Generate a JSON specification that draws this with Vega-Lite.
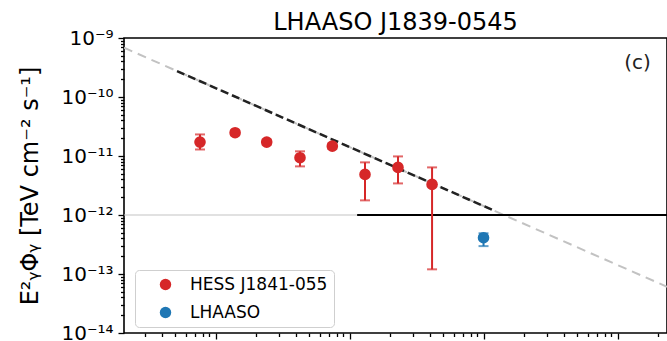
{
  "$schema": "https://vega.github.io/schema/vega-lite/v6.json",
  "width": 543,
  "height": 295,
  "autosize": {"type": "none"},
  "padding": {"left": 124, "top": 38, "right": 0, "bottom": 8},
  "background": "white",
  "config": {
    "font": "DejaVu Sans",
    "view": {"stroke": "black", "strokeWidth": 1.6},
    "axis": {"grid": false, "domain": false, "tickColor": "black", "tickWidth": 1.3, "labelColor": "black", "titleColor": "black", "labelFont": "DejaVu Sans", "titleFont": "DejaVu Sans"}
  },
  "title": {"text": "LHAASO J1839-0545", "fontSize": 24, "fontWeight": "normal", "font": "DejaVu Sans", "anchor": "middle", "frame": "group", "baseline": "alphabetic", "offset": 8, "dy": 34, "color": "black"},
  "datasets": {
    "points": [
      {"series": "HESS J1841-055", "E": 0.766, "F": 1.72e-11, "lo": 1.29e-11, "hi": 2.32e-11},
      {"series": "HESS J1841-055", "E": 1.40, "F": 2.48e-11, "lo": 2.25e-11, "hi": 2.72e-11},
      {"series": "HESS J1841-055", "E": 2.41, "F": 1.72e-11, "lo": 1.55e-11, "hi": 1.90e-11},
      {"series": "HESS J1841-055", "E": 4.27, "F": 9.35e-12, "lo": 6.67e-12, "hi": 1.20e-11},
      {"series": "HESS J1841-055", "E": 7.44, "F": 1.47e-11, "lo": 1.32e-11, "hi": 1.63e-11},
      {"series": "HESS J1841-055", "E": 13.05, "F": 4.88e-12, "lo": 1.77e-12, "hi": 7.80e-12},
      {"series": "HESS J1841-055", "E": 23.0, "F": 6.41e-12, "lo": 3.43e-12, "hi": 9.84e-12},
      {"series": "HESS J1841-055", "E": 41.3, "F": 3.30e-12, "lo": 1.20e-13, "hi": 6.41e-12},
      {"series": "LHAASO", "E": 100, "F": 4.12e-13, "lo": 2.97e-13, "hi": 4.90e-13}
    ],
    "greydash": [
      {"E": 0.2075, "F": 6.84e-10},
      {"E": 2340, "F": 6.07e-14}
    ],
    "blackdash": [
      {"E": 0.516, "F": 2.75e-10},
      {"E": 122, "F": 1.164e-12}
    ]
  },
  "layer": [
    {
      "data": {"name": "greydash"},
      "mark": {"type": "line", "color": "#c2c2c2", "strokeWidth": 2, "strokeDash": [9, 6], "clip": true},
      "encoding": {
        "x": {
          "field": "E", "type": "quantitative",
          "scale": {"type": "log", "domain": [0.2075, 2340], "nice": false},
          "axis": {
            "title": null,
            "labels": false,
            "values": [0.3, 0.4, 0.5, 0.6, 0.7, 0.8, 0.9, 1, 2, 3, 4, 5, 6, 7, 8, 9, 10, 20, 30, 40, 50, 60, 70, 80, 90, 100, 200, 300, 400, 500, 600, 700, 800, 900, 1000, 2000],
            "tickSize": {"condition": {"test": "abs(log(datum.value)/LN10 - round(log(datum.value)/LN10)) > 0.01", "value": 3.5}, "value": 6}
          }
        },
        "y": {
          "field": "F", "type": "quantitative",
          "scale": {"type": "log", "domain": [1e-14, 1e-9], "nice": false},
          "axis": {
            "title": "E²ᵧΦᵧ [TeV cm⁻² s⁻¹]",
            "values": [1e-14, 2e-14, 3e-14, 4e-14, 5e-14, 6e-14, 7e-14, 8e-14, 9e-14, 1e-13, 2e-13, 3e-13, 4e-13, 5e-13, 6e-13, 7e-13, 8e-13, 9e-13, 1e-12, 2e-12, 3e-12, 4e-12, 5e-12, 6e-12, 7e-12, 8e-12, 9e-12, 1e-11, 2e-11, 3e-11, 4e-11, 5e-11, 6e-11, 7e-11, 8e-11, 9e-11, 1e-10, 2e-10, 3e-10, 4e-10, 5e-10, 6e-10, 7e-10, 8e-10, 9e-10, 1e-9],
            "labelExpr": "abs(log(datum.value)/LN10 - round(log(datum.value)/LN10)) < 0.01 ? (datum.value > 5e-10 ? '10⁻⁹' : datum.value > 5e-11 ? '10⁻¹⁰' : datum.value > 5e-12 ? '10⁻¹¹' : datum.value > 5e-13 ? '10⁻¹²' : datum.value > 5e-14 ? '10⁻¹³' : '10⁻¹⁴') : ''",
            "labelFontSize": 20,
            "labelPadding": 5,
            "labelOverlap": false,
            "labelFlush": false,
            "tickSize": {"condition": {"test": "abs(log(datum.value)/LN10 - round(log(datum.value)/LN10)) > 0.01", "value": 3.5}, "value": 6},
            "titleFontSize": 24,
            "titleFontWeight": "normal",
            "titleX": -94,
            "titleY": 147.5,
            "titleAngle": -90,
            "titleAlign": "center",
            "titleBaseline": "middle"
          }
        }
      }
    },
    {
      "data": {"values": [{"F": 1e-12}]},
      "mark": {"type": "rule", "color": "#c4c4c4", "strokeWidth": 1.2},
      "encoding": {"y": {"field": "F", "type": "quantitative"}}
    },
    {
      "data": {"values": [{"E": 11.4, "E2": 2340, "F": 1e-12}]},
      "mark": {"type": "rule", "color": "black", "strokeWidth": 2},
      "encoding": {
        "x": {"field": "E", "type": "quantitative"},
        "x2": {"field": "E2"},
        "y": {"field": "F", "type": "quantitative"}
      }
    },
    {
      "data": {"name": "blackdash"},
      "mark": {"type": "line", "color": "#222222", "strokeWidth": 2.5, "strokeDash": [8, 4], "clip": true},
      "encoding": {
        "x": {"field": "E", "type": "quantitative"},
        "y": {"field": "F", "type": "quantitative"}
      }
    },
    {
      "data": {"name": "points"},
      "transform": [{"filter": "datum.series == 'HESS J1841-055'"}],
      "mark": {"type": "rule", "strokeWidth": 2, "color": "#d62728"},
      "encoding": {
        "x": {"field": "E", "type": "quantitative"},
        "y": {"field": "lo", "type": "quantitative"},
        "y2": {"field": "hi"}
      }
    },
    {
      "data": {"name": "points"},
      "transform": [{"filter": "datum.series == 'HESS J1841-055'"}],
      "mark": {"type": "tick", "orient": "horizontal", "size": 10, "thickness": 2, "color": "#d62728"},
      "encoding": {
        "x": {"field": "E", "type": "quantitative"},
        "y": {"field": "lo", "type": "quantitative"}
      }
    },
    {
      "data": {"name": "points"},
      "transform": [{"filter": "datum.series == 'HESS J1841-055'"}],
      "mark": {"type": "tick", "orient": "horizontal", "size": 10, "thickness": 2, "color": "#d62728"},
      "encoding": {
        "x": {"field": "E", "type": "quantitative"},
        "y": {"field": "hi", "type": "quantitative"}
      }
    },
    {
      "data": {"name": "points"},
      "transform": [{"filter": "datum.series == 'LHAASO'"}],
      "mark": {"type": "rule", "strokeWidth": 2, "color": "#1f77b4"},
      "encoding": {
        "x": {"field": "E", "type": "quantitative"},
        "y": {"field": "lo", "type": "quantitative"},
        "y2": {"field": "hi"}
      }
    },
    {
      "data": {"name": "points"},
      "transform": [{"filter": "datum.series == 'LHAASO'"}],
      "mark": {"type": "tick", "orient": "horizontal", "size": 10, "thickness": 2, "color": "#1f77b4"},
      "encoding": {
        "x": {"field": "E", "type": "quantitative"},
        "y": {"field": "lo", "type": "quantitative"}
      }
    },
    {
      "data": {"name": "points"},
      "transform": [{"filter": "datum.series == 'LHAASO'"}],
      "mark": {"type": "tick", "orient": "horizontal", "size": 10, "thickness": 2, "color": "#1f77b4"},
      "encoding": {
        "x": {"field": "E", "type": "quantitative"},
        "y": {"field": "hi", "type": "quantitative"}
      }
    },
    {
      "data": {"name": "points"},
      "mark": {"type": "point", "shape": "circle", "filled": true, "size": 135, "opacity": 1},
      "encoding": {
        "x": {"field": "E", "type": "quantitative"},
        "y": {"field": "F", "type": "quantitative"},
        "color": {
          "field": "series", "type": "nominal",
          "scale": {"domain": ["HESS J1841-055", "LHAASO"], "range": ["#d62728", "#1f77b4"]},
          "legend": {
            "orient": "none", "legendX": 11, "legendY": 232, "title": null,
            "padding": 6, "strokeColor": "#cfcfcf", "cornerRadius": 4, "fillColor": "white",
            "symbolType": "circle", "symbolSize": 130, "symbolOffset": 16,
            "labelOffset": 16, "labelFontSize": 17, "labelFont": "DejaVu Sans", "labelColor": "black", "rowPadding": 10
          }
        }
      }
    },
    {
      "data": {"values": [{"E": 1410, "F": 3.78e-10, "label": "(c)"}]},
      "mark": {"type": "text", "fontSize": 20, "align": "center", "baseline": "middle", "color": "#222222"},
      "encoding": {
        "x": {"field": "E", "type": "quantitative"},
        "y": {"field": "F", "type": "quantitative"},
        "text": {"field": "label"}
      }
    }
  ]
}
